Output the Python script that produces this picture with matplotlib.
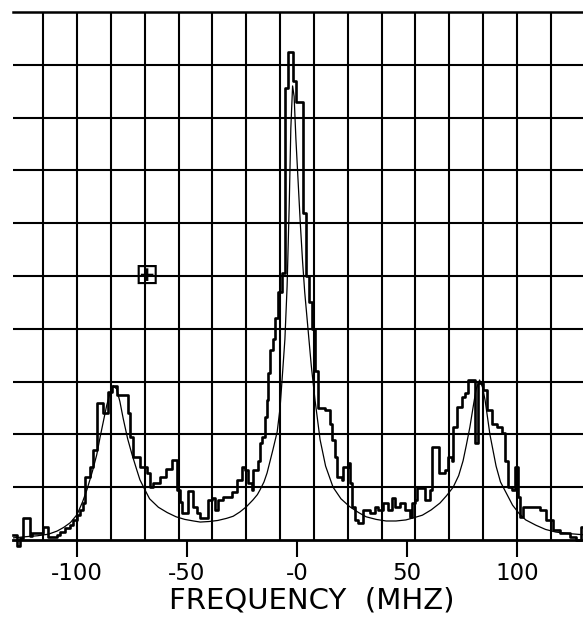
import matplotlib
matplotlib.use("Agg")
import matplotlib.pyplot as plt
import numpy as np

# measured spectrum (stepped histogram): step start frequency (MHz) and level
hist_freq = [-129.1, -127.3, -125.9, -124.5, -121.4, -120.5, -115.5, -113.2, -109.1, -107.7,
             -105.5, -103.2, -101.8, -100.0, -98.6, -97.3, -96.4, -94.1, -92.7, -90.9,
             -88.2, -85.9, -84.1, -81.8, -76.8, -75.9, -74.5, -71.4, -68.2, -66.8,
             -65.5, -62.3, -59.5, -56.8, -54.5, -53.2, -52.3, -49.5, -47.3, -45.5,
             -44.1, -40.5, -38.6, -37.3, -35.9, -33.6, -29.5, -27.3, -25.0, -23.6,
             -22.3, -20.5, -20.0, -17.7, -16.8, -15.9, -14.5, -13.6, -13.2, -12.3,
             -10.9, -10.0, -8.6, -6.8, -5.5, -4.1, -1.8, -0.5, 2.7, 4.1,
             5.4, 6.8, 8.2, 9.5, 12.7, 15.0, 15.9, 17.3, 18.2, 20.5,
             20.9, 23.2, 24.1, 25.0, 26.4, 27.7, 30.0, 33.2, 35.5, 36.8,
             39.1, 41.4, 43.2, 44.5, 46.8, 49.1, 51.4, 52.3, 53.6, 54.5,
             57.3, 58.2, 60.5, 61.4, 64.5, 67.3, 68.6, 70.5, 70.9, 72.7,
             75.0, 76.4, 77.7, 80.9, 82.3, 84.5, 86.4, 88.6, 90.9, 93.2,
             94.5, 95.9, 97.7, 99.1, 100.5, 101.4, 102.7, 110.5, 113.2, 116.4,
             119.5, 124.1, 126.8, 129.1, 133.2]
hist_level = [0.10, -0.12, 0.03, 0.42, 0.08, 0.13, 0.25, 0.06, 0.09, 0.15,
              0.22, 0.28, 0.38, 0.47, 0.57, 0.70, 1.20, 1.38, 1.70, 2.60,
              2.40, 2.80, 2.92, 2.75, 2.40, 1.95, 1.57, 1.38, 1.27, 1.00,
              1.08, 1.20, 1.35, 1.52, 0.95, 0.72, 0.51, 0.92, 0.63, 0.51,
              0.42, 0.76, 0.80, 0.57, 0.76, 0.81, 0.91, 1.14, 1.38, 1.33,
              1.08, 0.95, 1.33, 1.50, 1.84, 1.95, 2.33, 2.65, 3.16, 3.60,
              3.80, 4.20, 4.70, 5.05, 8.56, 9.24, 8.70, 8.30, 6.20, 5.00,
              4.50, 4.00, 3.20, 2.50, 2.46, 2.20, 1.90, 1.57, 1.20, 1.14,
              1.38, 1.45, 1.08, 0.63, 0.38, 0.32, 0.57, 0.51, 0.63, 0.57,
              0.70, 0.57, 0.80, 0.63, 0.70, 0.57, 0.44, 0.70, 0.76, 0.98,
              0.98, 0.76, 0.95, 1.76, 1.27, 1.33, 1.57, 1.50, 2.14, 2.52,
              2.71, 2.78, 3.03, 1.84, 2.97, 2.84, 2.46, 2.20, 2.14, 2.03,
              1.50, 1.00, 0.95, 1.38, 0.81, 0.44, 0.63, 0.57, 0.38, 0.19,
              0.13, 0.06, 0.00, 0.25, 0.25]

# fitted curve
fit_freq = [-129, -124, -118, -113, -109, -106, -103, -100, -97.5, -95.5,
            -93, -91, -89.5, -88, -86.5, -85, -83.5, -82, -80.5, -79,
            -77, -75, -73, -71.4, -69, -67, -63, -59, -55, -51,
            -47, -44, -40, -36, -32, -29, -26, -23, -20, -18,
            -16.8, -15, -13.6, -11, -9, -7.7, -6.5, -5.5, -4.5, -3.5,
            -2.8, -2.0, -1.3, -0.5, 0.5, 1.5, 2.5, 3.5, 5, 6.5,
            8.2, 10.5, 13, 16.4, 20, 24, 28, 31.4, 36, 40.5,
            45, 49.5, 53, 57, 61, 65, 68, 71, 73.5, 75.5,
            77, 78.6, 80, 81.4, 83, 84.3, 85.5, 87.7, 90.5, 92.5,
            95, 98, 101, 104, 108.6, 113, 117.7, 124, 133]
fit_level = [0.04, 0.06, 0.08, 0.11, 0.17, 0.24, 0.33, 0.48, 0.72, 0.95,
             1.30, 1.62, 1.95, 2.25, 2.55, 2.78, 2.92, 2.86, 2.62, 2.30,
             1.92, 1.62, 1.35, 1.14, 0.94, 0.78, 0.62, 0.52, 0.44, 0.39,
             0.36, 0.34, 0.35, 0.37, 0.41, 0.45, 0.53, 0.63, 0.76, 0.86,
             0.95, 1.10, 1.27, 1.70, 2.05, 2.50, 3.20, 3.80, 4.80, 6.40,
             7.80, 8.60, 8.40, 7.60, 6.80, 6.00, 5.30, 4.70, 4.00, 3.30,
             2.65, 1.90, 1.40, 1.00, 0.78, 0.63, 0.52, 0.44, 0.39, 0.36,
             0.36, 0.38, 0.42, 0.47, 0.57, 0.70, 0.84, 1.00, 1.22, 1.50,
             1.80, 2.14, 2.50, 2.85, 3.03, 2.90, 2.65, 2.00, 1.40, 1.10,
             0.90, 0.66, 0.50, 0.38, 0.28, 0.20, 0.15, 0.12, 0.09]

tick_pos = [-100, -50, 0, 50, 100]
tick_labels = ["-100", "-50", "-0", "50", "100"]

plt.rcParams['font.family'] = ['DejaVu Sans']

fig = plt.figure(figsize=(5.83, 6.21), dpi=100)
ax = fig.add_axes([13 / 583, 81 / 621, 577 / 583, 528 / 621])

ax.step(hist_freq, hist_level, where='post', color='black', lw=1.9, clip_on=False, zorder=3)
ax.plot(fit_freq, fit_level, color='black', lw=0.9, zorder=3)

ax.set_xlim(-129.1, 133.2)
ax.set_ylim(0, 10)

# graph-paper grid (not aligned with the frequency scale)
paper_step = 200 / 13
ax.xaxis.remove_overlapping_locs = False
ax.set_xticks([-100 + k * paper_step for k in range(-1, 15)], minor=True)
ax.set_yticks(np.arange(1, 10))
ax.set_yticklabels([])
ax.grid(True, which='minor', axis='x', color='black', lw=1.5)
ax.grid(True, which='major', axis='y', color='black', lw=1.5)
ax.grid(False, which='major', axis='x')

ax.set_xticks(tick_pos, tick_labels)
ax.tick_params(axis='x', which='major', direction='out', length=12, width=1.5,
               pad=4, labelsize=16.5)
ax.tick_params(axis='x', which='minor', length=0)
ax.tick_params(axis='y', length=0)

for side in ('left', 'right'):
    ax.spines[side].set_visible(False)
ax.spines['top'].set_linewidth(1.8)
ax.spines['bottom'].set_linewidth(2.0)

ax.set_xlabel("FREQUENCY  (MHZ)", fontsize=21, va='center')
ax.xaxis.set_label_coords((312 - 13) / 577, (540 - 600) / 528)

ax.text(-68.2, 5.0, "⊞", fontsize=21, ha='center', va='center')

fig.savefig("out.png", dpi=100, facecolor='white')
